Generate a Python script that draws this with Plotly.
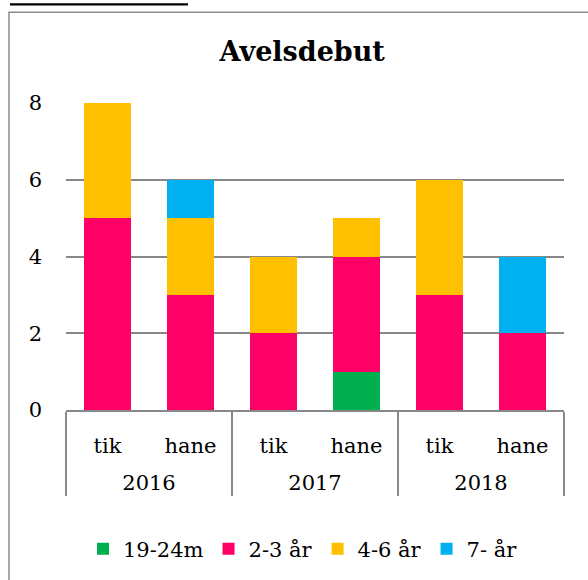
import plotly.graph_objects as go

years = ["2016", "2016", "2017", "2017", "2018", "2018"]
sexes = ["tik", "hane", "tik", "hane", "tik", "hane"]
series_names = ["19-24m", "2-3 år", "4-6 år", "7- år"]
v_19_24m = [0, 0, 0, 1, 0, 0]
v_2_3 = [5, 3, 2, 3, 3, 2]
v_4_6 = [3, 2, 2, 1, 3, 0]
v_7 = [0, 1, 0, 0, 0, 2]
colors = ["#00B050", "#FF0066", "#FFC000", "#00B0F0"]

FONT = "DejaVu Serif"
W, H = 588, 580
L, R, T, B = 66, 24, 103, 169
pw, ph = W - L - R, H - T - B

def px(x):
    return (x - L) / pw

def py(y):
    return (H - B - y) / ph

# first-level labels get a blank second line to space the year row
sex_labels = [s + "<br>&nbsp;" for s in sexes]

fig = go.Figure()
for name, vals, col in zip(series_names, [v_19_24m, v_2_3, v_4_6, v_7], colors):
    fig.add_trace(go.Bar(x=[years, sex_labels], y=vals, name=name,
                         marker=dict(color=col, line=dict(width=0))))

fig.update_layout(
    width=W, height=H,
    margin=dict(l=L, r=R, t=T, b=B),
    barmode="stack", bargap=0.43,
    paper_bgcolor="white", plot_bgcolor="white",
    font=dict(family=FONT, size=21, color="black"),
    title=dict(text="<b>Avelsdebut</b>", x=0.514, xanchor="center",
               y=1 - 52 / H, yanchor="middle",
               font=dict(family=FONT, size=27, color="black")),
    legend=dict(orientation="h", x=px(303), xanchor="center",
                y=py(549), yanchor="middle", font=dict(size=21),
                traceorder="normal", itemwidth=30),
    showlegend=True,
)
fig.update_yaxes(range=[0, 8], dtick=2, showgrid=True, gridcolor="#888888",
                 gridwidth=1.5, zeroline=False, showline=False,
                 ticklabelstandoff=23, tickfont=dict(size=21))
fig.update_xaxes(type="multicategory", showline=True, linecolor="#888888",
                 linewidth=1.5, showdividers=True, dividercolor="#888888",
                 dividerwidth=1.5, tickfont=dict(size=21), ticks="",
                 ticklabelstandoff=16)

fig.add_shape(type="rect", xref="paper", yref="paper",
              x0=px(9), y0=py(12), x1=px(700), y1=py(700),
              line=dict(color="#8c8c8c", width=1.5), fillcolor="rgba(0,0,0,0)",
              layer="below")
fig.add_shape(type="line", xref="paper", yref="paper",
              x0=px(10), y0=py(4), x1=px(188), y1=py(4),
              line=dict(color="black", width=2.2))

fig.write_html("out.html", config={"displayModeBar": False},
               post_script="document.body.style.margin='0';")
